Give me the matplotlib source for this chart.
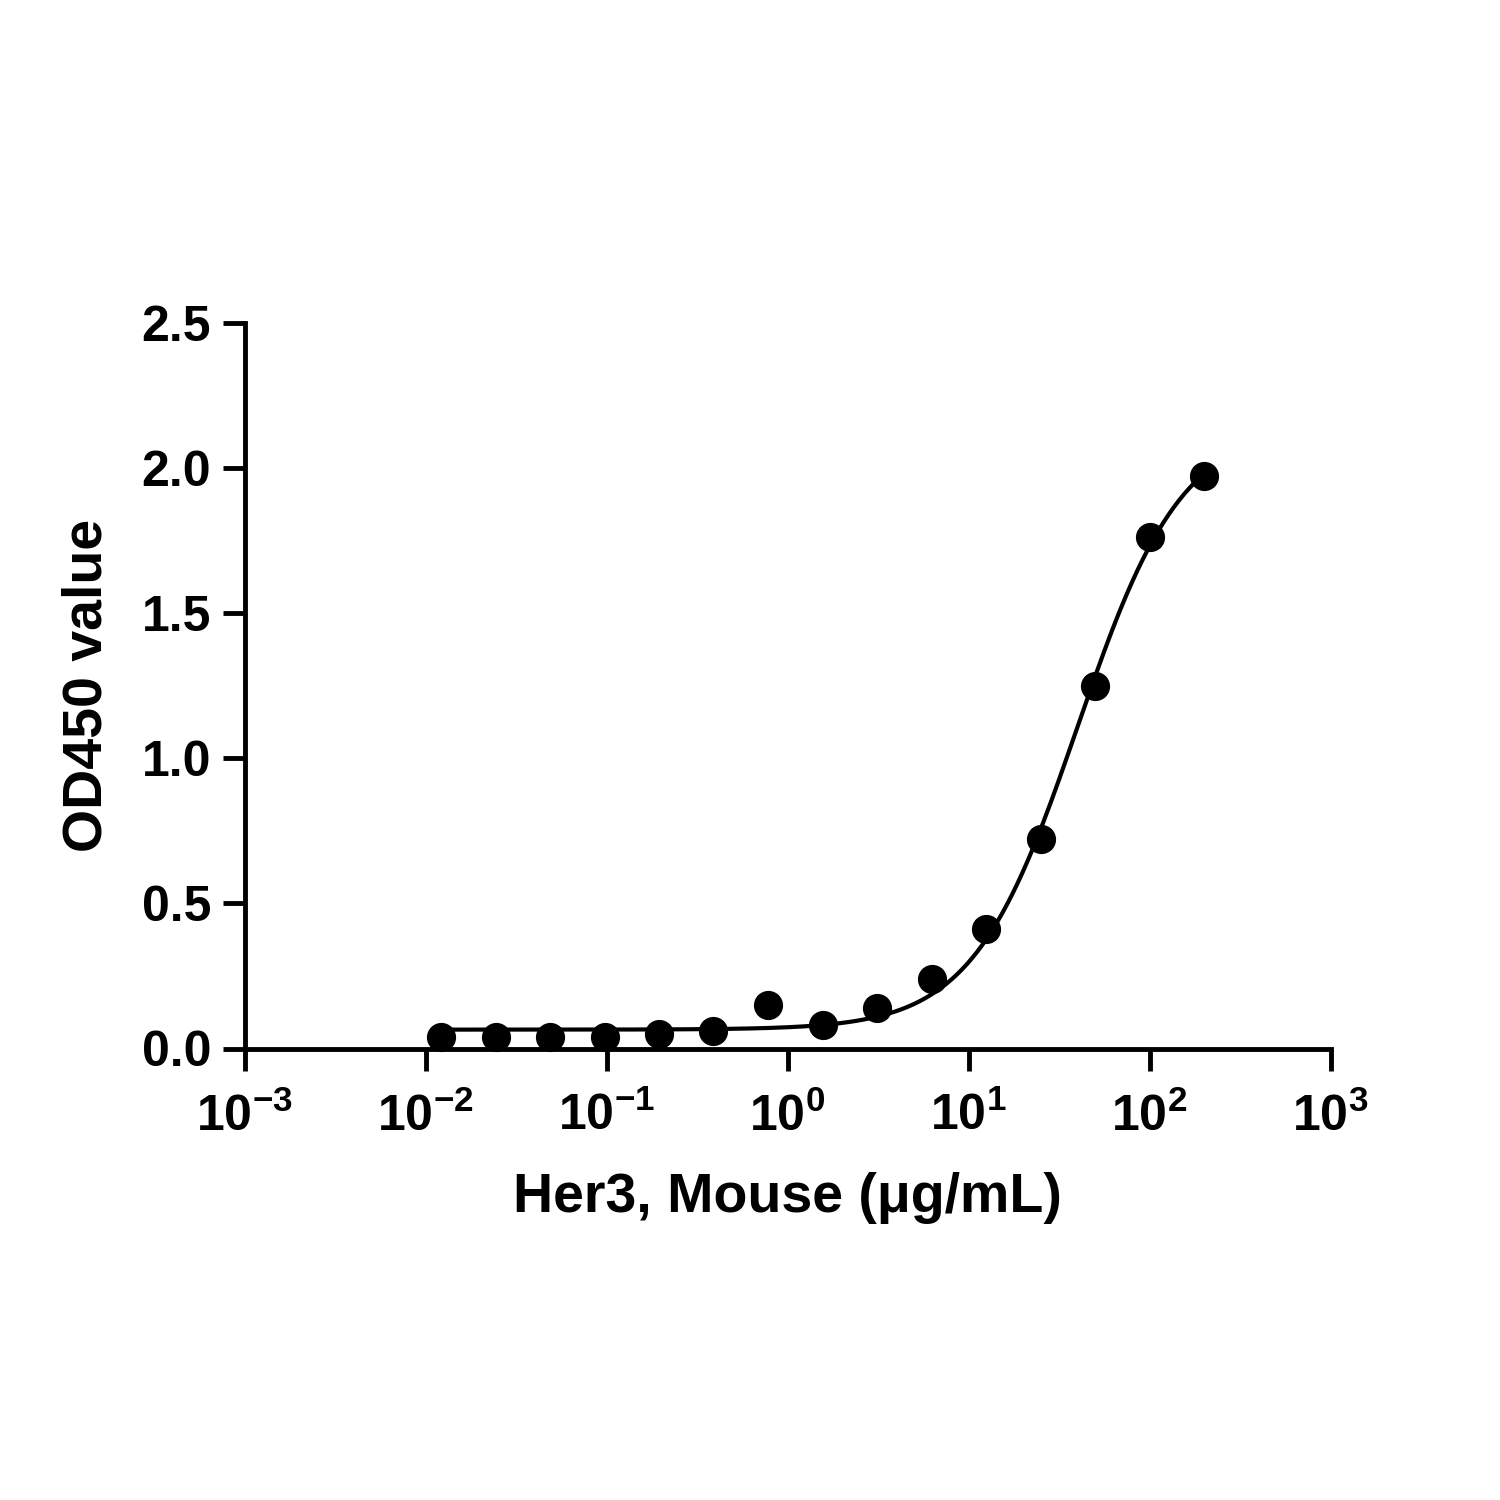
import numpy as np
import matplotlib
matplotlib.use("Agg")
import matplotlib.pyplot as plt
from matplotlib.ticker import FixedLocator, NullLocator

conc = [0.0122, 0.0244, 0.0488, 0.0977, 0.195, 0.39, 0.78, 1.5625, 3.125, 6.25, 12.5, 25, 50, 100, 200]
od = [0.04, 0.04, 0.04, 0.04, 0.05, 0.06, 0.15, 0.08, 0.14, 0.24, 0.41, 0.72, 1.25, 1.76, 1.97]
# 4PL fit parameters (bottom, top, EC50, hill)
fit_bottom, fit_top, fit_ec50, fit_hill = 0.065, 2.15, 40.0, 1.5
xtick_exps = ['-3', '-2', '-1', '0', '1', '2', '3']

plt.rcParams['font.family'] = ['Liberation Sans', 'DejaVu Sans']
plt.rcParams['mathtext.fontset'] = 'custom'
plt.rcParams['mathtext.rm'] = 'Liberation Sans:bold'
plt.rcParams['mathtext.bf'] = 'Liberation Sans:bold'
plt.rcParams['mathtext.default'] = 'bf'

fig = plt.figure(figsize=(15, 15), dpi=100)
ax = fig.add_axes([0.163, 0.301, 0.724, 0.484])

xs = np.logspace(np.log10(conc[0]), np.log10(conc[-1]), 300)
ys = fit_bottom + (fit_top - fit_bottom) / (1 + (fit_ec50 / xs) ** fit_hill)
ax.plot(xs, ys, color='black', lw=3)
ax.plot(conc, od, 'o', color='black', ms=20, clip_on=False)

ax.set_xscale('log')
ax.set_xlim(1e-3, 1e3)
ax.set_ylim(0, 2.5)
ax.xaxis.set_major_locator(FixedLocator([1e-3, 1e-2, 1e-1, 1, 10, 100, 1000]))
ax.xaxis.set_minor_locator(NullLocator())
ax.set_xticklabels([r'$10^{%s}$' % e for e in xtick_exps])
ax.set_yticks([0, 0.5, 1.0, 1.5, 2.0, 2.5])
ax.set_yticklabels(['0.0', '0.5', '1.0', '1.5', '2.0', '2.5'])
for s in ['top', 'right']:
    ax.spines[s].set_visible(False)
for s in ['left', 'bottom']:
    ax.spines[s].set_linewidth(3.5)
ax.tick_params(width=3.5, length=16, labelsize=36, direction='out', pad=8)
ax.tick_params(axis='x', pad=16)
for lab in ax.get_xticklabels() + ax.get_yticklabels():
    lab.set_fontweight('bold')
ax.set_xlabel('Her3, Mouse (μg/mL)', fontsize=40, fontweight='bold', labelpad=22)
ax.set_ylabel('OD450 value', fontsize=40, fontweight='bold', labelpad=20)
fig.savefig('out.png', dpi=100, facecolor='white')
